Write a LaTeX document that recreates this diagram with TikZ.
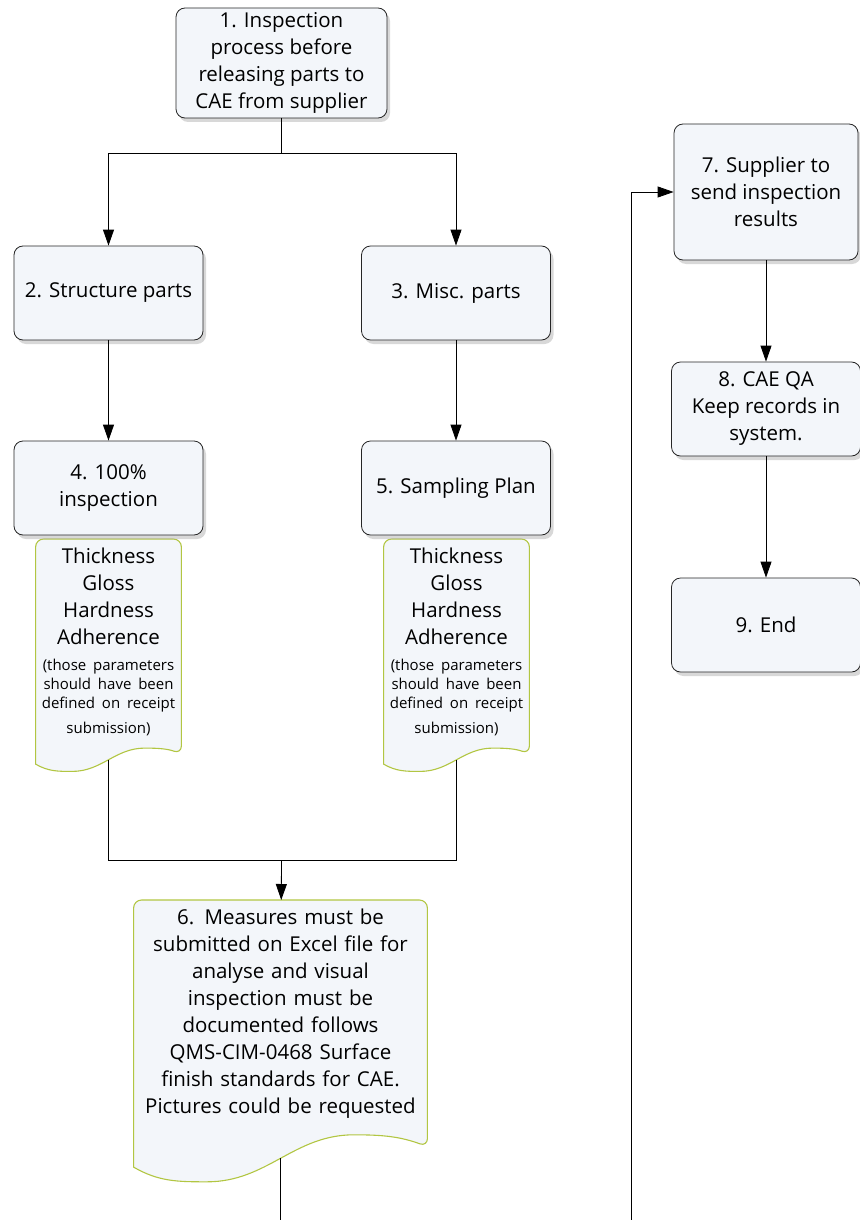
\documentclass[tikz,border=0pt]{standalone}
\usepackage{fontspec}
\setmainfont{Open Sans}
\usetikzlibrary{arrows.meta,shadows,calc,backgrounds}

\definecolor{boxfill}{RGB}{243,246,250}
\definecolor{docedge}{RGB}{178,198,66}

\newcommand{\paramtext}{Thickness\\Gloss\\Hardness\\Adherence\\[7pt]{\fontsize{15}{19}\selectfont (those parameters\\should have been\\defined on receipt\\[-2pt]submission)}}

\newcommand{\wavedoc}[2]{%
\begin{scope}[on background layer]
\draw[docline] let \p1=(#1.south west), \p2=(#1.north east), \n1={\x2-\x1}, \n2={\y1-#2} in
  [rounded corners=8pt] (\x1,\n2-0.03*\n1) -- (\x1,\y2) -- (\x2,\y2) -- (\x2,\n2+0.04*\n1)
  [sharp corners] to[out=160,in=0] (\x1+0.75*\n1,\n2+0.08*\n1)
  to[out=180,in=0] (\x1+0.25*\n1,\n2-0.08*\n1)
  to[out=180,in=-30] (\x1,\n2-0.03*\n1) -- cycle;
\end{scope}
\path let \p1=(#1.south) in (\x1,\y1-#2) coordinate (#1 tail);}

\begin{document}
\begin{tikzpicture}[x=1pt,y=-1pt,line width=0.8pt,
  procbox/.style={rectangle, rounded corners=9pt, draw=black!85, fill=boxfill,
    drop shadow={shadow xshift=3pt,shadow yshift=-4pt,fill=black!30},
    align=center, font=\fontsize{20.5}{27}\selectfont,
    minimum width=189pt, minimum height=94pt, inner sep=3pt},
  docnode/.style={anchor=north, align=center, text width=#1, minimum width=#1,
    inner xsep=0pt, inner ysep=9pt, font=\fontsize{20.5}{27}\selectfont},
  docline/.style={draw=docedge, fill=boxfill, line width=1.1pt},
  arr/.style={-{Triangle[length=16pt,width=11pt]}}]

\useasboundingbox (0,0) rectangle (859,1220);

\node[procbox, minimum width=211pt, minimum height=110pt] (start) at (281.5,63) {1. Inspection\\process before\\releasing parts to\\CAE from supplier};
\node[procbox] (struct) at (108.5,293) {2. Structure parts};
\node[procbox] (misc) at (456,293) {3. Misc. parts};
\node[procbox] (full) at (108.5,488) {4. 100\%\\inspection};
\node[procbox] (sampling) at (456,488) {5. Sampling Plan};
\node[docnode=145pt] (paramsA) at (108.5,539) {\paramtext};
\node[docnode=145pt] (paramsB) at (456.5,539) {\paramtext};
\node[docnode=293pt] (measures) at (280.5,900) {6. Measures must be\\submitted on Excel file for\\analyse and visual\\inspection must be\\documented follows\\QMS-CIM-0468 Surface\\finish standards for CAE.\\Pictures could be requested};
\wavedoc{paramsA}{14pt}
\wavedoc{paramsB}{14pt}
\wavedoc{measures}{30pt}

\node[procbox, minimum width=184pt, minimum height=136pt] (send) at (766,192) {7. Supplier to\\send inspection\\results};
\node[procbox] (records) at (766,409) {8. CAE QA\\Keep records in\\system.};
\node[procbox] (finish) at (766,625) {9. End};

\coordinate (split) at (281.5,153);
\coordinate (merge) at (281.5,860);
\coordinate (offA) at (280.5,1220);
\coordinate (offB) at (631,1220);

\draw (start.south) -- (split);
\draw[arr] (split) -| (struct);
\draw[arr] (split) -| (misc);
\draw[arr] (struct) -- (full);
\draw[arr] (misc) -- (sampling);
\draw (paramsA tail) |- (merge) -| (paramsB tail);
\draw[arr] (merge) -- (measures);
\draw (measures tail) -- (offA);
\draw[arr] (offB) |- (send);
\draw[arr] (send) -- (records);
\draw[arr] (records) -- (finish);

\end{tikzpicture}
\end{document}
